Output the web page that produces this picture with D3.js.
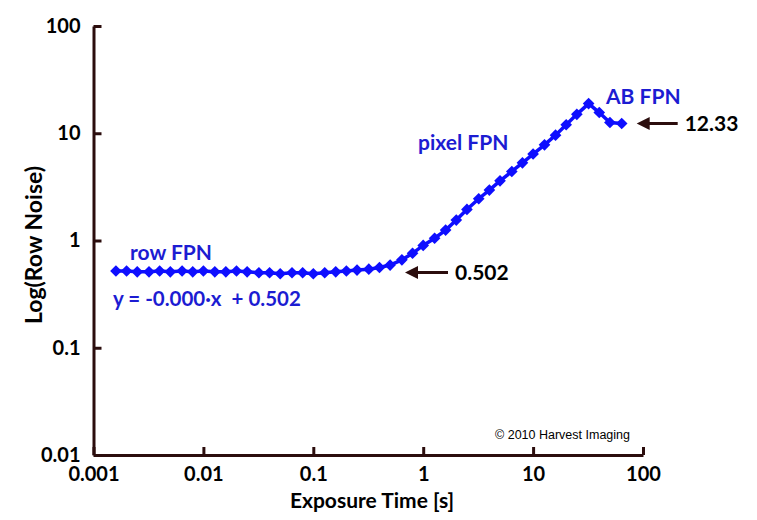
<!DOCTYPE html>
<html lang="en">
<head>
  <meta charset="UTF-8">
  <title>Row Noise vs Exposure Time</title>
  <style>
    body { margin: 0; background: #fff; }
    svg { display: block; }
  </style>
</head>
<body>
  <script src="https://d3js.org/d3.v7.min.js"></script>
  <script>
    // exposure time [s] and row noise
    const exposure = [0.0016, 0.002, 0.0025, 0.0032, 0.004, 0.005, 0.0064, 0.008, 0.01, 0.0127,
      0.016, 0.02, 0.025, 0.032, 0.04, 0.05, 0.064, 0.08, 0.1, 0.127,
      0.16, 0.2, 0.25, 0.32, 0.4, 0.5, 0.64, 0.8, 1.0, 1.27,
      1.6, 2.0, 2.5, 3.2, 4.0, 5.0, 6.4, 8.0, 10, 12.7,
      16, 20, 25, 32, 40, 50, 64];
    const rowNoise = [0.52, 0.52, 0.51, 0.51, 0.52, 0.51, 0.52, 0.51, 0.52, 0.51,
      0.51, 0.52, 0.51, 0.50, 0.50, 0.49, 0.50, 0.50, 0.49, 0.50,
      0.51, 0.52, 0.53, 0.54, 0.56, 0.59, 0.66, 0.76, 0.9, 1.05,
      1.25, 1.55, 1.95, 2.45, 2.95, 3.6, 4.4, 5.3, 6.4, 7.8,
      9.6, 12.0, 15.0, 18.9, 15.6, 12.6, 12.33];

    const xTicks = [0.001, 0.01, 0.1, 1, 10, 100];
    const xTickLabels = ['0.001', '0.01', '0.1', '1', '10', '100'];
    const yTicks = [0.01, 0.1, 1, 10, 100];
    const yTickLabels = ['0.01', '0.1', '1', '10', '100'];

    const fitOffset = 0.502;
    const lastValue = 12.33;

    const width = 757, height = 520;
    const padding = { left: 93.5, right: 114, top: 26, bottom: 65 };

    const axisColor = '#2b0d0d';
    const markerColor = '#0e0eff';
    const labelBlue = '#1c1cd2';
    const font = 'Lato, "Open Sans", sans-serif';

    const svg = d3.select('body')
      .append('svg')
      .attr('width', width)
      .attr('height', height);

    const xScale = d3.scaleLog()
      .domain([0.001, 100])
      .range([padding.left, width - padding.right]);

    const yScale = d3.scaleLog()
      .domain([0.01, 100])
      .range([height - padding.bottom, padding.top]);

    const xAxis = d3.axisBottom(xScale)
      .tickValues(xTicks)
      .tickFormat((d, i) => xTickLabels[i])
      .tickSizeInner(-8)
      .tickSizeOuter(0)
      .tickPadding(12);

    const yAxis = d3.axisLeft(yScale)
      .tickValues(yTicks)
      .tickFormat((d, i) => yTickLabels[i])
      .tickSizeInner(-8)
      .tickSizeOuter(0)
      .tickPadding(13);

    const gx = svg.append('g')
      .attr('transform', `translate(0, ${height - padding.bottom})`)
      .call(xAxis);

    const gy = svg.append('g')
      .attr('transform', `translate(${padding.left}, 0)`)
      .call(yAxis);

    [gx, gy].forEach(g => {
      g.select('.domain').attr('stroke', axisColor).attr('stroke-width', 3);
      g.selectAll('.tick line').attr('stroke', axisColor).attr('stroke-width', 3);
      g.selectAll('.tick text')
        .attr('fill', '#000')
        .style('font-family', font)
        .style('font-weight', 'bold')
        .style('font-size', '20px');
    });

    // axis titles
    svg.append('text')
      .attr('x', 372)
      .attr('y', 508)
      .attr('text-anchor', 'middle')
      .style('font-family', font)
      .style('font-weight', 'bold')
      .style('font-size', '21px')
      .text('Exposure Time [s]');

    svg.append('text')
      .attr('transform', 'translate(42, 245) rotate(-90)')
      .attr('text-anchor', 'middle')
      .style('font-family', font)
      .style('font-weight', 'bold')
      .style('font-size', '23px')
      .text('Log(Row Noise)');

    // data line + diamond markers
    const ds = exposure.map((x, i) => ({ x, y: rowNoise[i] }));

    const line = d3.line()
      .x(d => xScale(d.x))
      .y(d => yScale(d.y));

    svg.append('path')
      .datum(ds)
      .attr('fill', 'none')
      .attr('stroke', markerColor)
      .attr('stroke-width', 3.5)
      .attr('d', line);

    const diamond = d3.symbol(d3.symbolSquare, 68);

    svg.append('g')
      .selectAll('path')
      .data(ds)
      .join('path')
      .attr('d', diamond)
      .attr('transform', d => `translate(${xScale(d.x)}, ${yScale(d.y)}) rotate(45)`)
      .attr('fill', markerColor);

    // arrows
    const arrow = (x0, x1, y) => {
      svg.append('line')
        .attr('x1', x0 + 10).attr('x2', x1)
        .attr('y1', y).attr('y2', y)
        .attr('stroke', axisColor)
        .attr('stroke-width', 3);
      svg.append('path')
        .attr('d', `M${x0},${y} L${x0 + 13},${y - 6.5} L${x0 + 13},${y + 6.5} Z`)
        .attr('fill', axisColor);
    };

    const y502 = yScale(fitOffset);
    arrow(405, 448, y502);
    const yLast = yScale(lastValue);
    const xLast = xScale(exposure[exposure.length - 1]);
    arrow(xLast + 15, xLast + 56, yLast);

    const addText = (x, y, str, color, size) => svg.append('text')
      .attr('x', x)
      .attr('y', y)
      .attr('fill', color)
      .style('font-family', font)
      .style('font-weight', 'bold')
      .style('font-size', size + 'px')
      .text(str);

    addText(455, y502 + 7, fitOffset.toFixed(3), '#000', 21);
    addText(xLast + 63, yLast + 8, lastValue.toFixed(2), '#000', 21);

    addText(130, 260, 'row FPN', labelBlue, 21);
    addText(113, 306, 'y = -0.000\u00b7x  + 0.502', labelBlue, 20.5).style('white-space', 'pre');
    addText(418, 150, 'pixel FPN', labelBlue, 21);
    addText(606, 104, 'AB FPN', labelBlue, 21);

    svg.append('text')
      .attr('x', 495)
      .attr('y', 439)
      .style('font-family', '"Liberation Sans", Arial, sans-serif')
      .style('font-size', '12.5px')
      .attr('fill', '#000')
      .text('\u00a9 2010 Harvest Imaging');
  </script>
</body>
</html>
